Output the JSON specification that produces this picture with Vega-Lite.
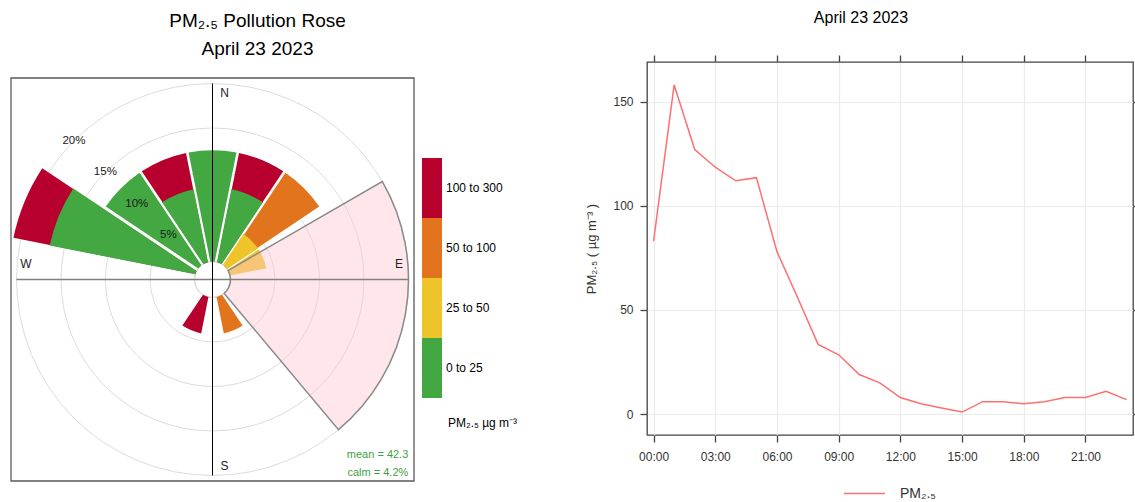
{
  "$schema": "https://vega.github.io/schema/vega-lite/v6.json",
  "padding": {"left": 10, "top": 9, "right": 2, "bottom": 0},
  "background": "white",
  "spacing": 67,
  "resolve": {"scale": {"color": "independent"}, "legend": {"color": "independent"}},
  "config": {
    "font": "Liberation Sans",
    "title": {"font": "Liberation Sans"},
    "axis": {"labelFont": "Liberation Sans", "titleFont": "Liberation Sans"},
    "legend": {"labelFont": "Liberation Sans", "titleFont": "Liberation Sans"}
  },
  "hconcat": [
    {
      "width": 403,
      "height": 419,
      "view": {"stroke": null},
      "title": {
        "text": ["PM₂.₅ Pollution Rose", "April 23 2023"],
        "fontSize": 19,
        "fontWeight": "normal",
        "color": "#000",
        "frame": "group",
        "anchor": "middle",
        "dx": 45,
        "lineHeight": 28,
        "offset": 3
      },
      "layer": [
        {
          "data": {"values": [{"x": 0}]},
          "mark": {"type": "rect", "filled": false, "stroke": "#5a5a5a", "strokeWidth": 1.3},
          "encoding": {
            "x": {"datum": -20.5612, "type": "quantitative", "scale": {"domain": [-20.5612, 20.5612], "nice": false, "zero": false}, "axis": null},
            "x2": {"datum": 20.5612},
            "y": {"datum": -20.5612, "type": "quantitative", "scale": {"domain": [-20.5612, 22.193], "nice": false, "zero": false}, "axis": null},
            "y2": {"datum": 20.5612}
          }
        },
        {
          "data": {"values": [{"r": 5}, {"r": 10}, {"r": 15}, {"r": 20}]},
          "mark": {"type": "arc", "filled": false, "stroke": "#dcdcdc", "strokeWidth": 1},
          "encoding": {
            "x": {"datum": 0, "type": "quantitative", "scale": {"domain": [-20.5612, 20.5612], "nice": false, "zero": false}, "axis": null},
            "y": {"datum": 0, "type": "quantitative", "scale": {"domain": [-20.5612, 22.193], "nice": false, "zero": false}, "axis": null},
            "theta": {"datum": 0, "type": "quantitative", "stack": null, "scale": {"type": "linear", "domain": [0, 360], "range": [0, 6.283185307179586], "zero": false, "nice": false}},
            "theta2": {"datum": 360},
            "radius": {"field": "r", "type": "quantitative", "stack": null, "scale": {"type": "linear", "domain": [0, 20], "range": [18, 196], "zero": false, "nice": false}}
          }
        },
        {
          "data": {"values": [
            {"sector": "N", "from": -11.25, "to": 11.25, "pm": "0 to 25", "cum": 12.5},
            {"sector": "NNE", "from": 11.25, "to": 33.75, "pm": "100 to 300", "cum": 12.5},
            {"sector": "NNE", "from": 11.25, "to": 33.75, "pm": "0 to 25", "cum": 8.333},
            {"sector": "NE", "from": 33.75, "to": 56.25, "pm": "50 to 100", "cum": 12.5},
            {"sector": "NE", "from": 33.75, "to": 56.25, "pm": "25 to 50", "cum": 4.167},
            {"sector": "ENE", "from": 56.25, "to": 78.75, "pm": "25 to 50", "cum": 4.167},
            {"sector": "SSE", "from": 146.25, "to": 168.75, "pm": "50 to 100", "cum": 4.167},
            {"sector": "SSW", "from": 191.25, "to": 213.75, "pm": "100 to 300", "cum": 4.167},
            {"sector": "WNW", "from": 281.25, "to": 303.75, "pm": "100 to 300", "cum": 20.833},
            {"sector": "WNW", "from": 281.25, "to": 303.75, "pm": "0 to 25", "cum": 16.667},
            {"sector": "NW", "from": 303.75, "to": 326.25, "pm": "0 to 25", "cum": 12.5},
            {"sector": "NNW", "from": 326.25, "to": 348.75, "pm": "100 to 300", "cum": 12.5},
            {"sector": "NNW", "from": 326.25, "to": 348.75, "pm": "0 to 25", "cum": 8.333}
          ]},
          "mark": {"type": "arc", "padAngle": 0.02, "strokeWidth": 0, "opacity": 1},
          "encoding": {
            "x": {"datum": 0, "type": "quantitative", "scale": {"domain": [-20.5612, 20.5612], "nice": false, "zero": false}, "axis": null},
            "y": {"datum": 0, "type": "quantitative", "scale": {"domain": [-20.5612, 22.193], "nice": false, "zero": false}, "axis": null},
            "theta": {"field": "from", "type": "quantitative", "stack": null, "scale": {"type": "linear", "domain": [0, 360], "range": [0, 6.283185307179586], "zero": false, "nice": false}},
            "theta2": {"field": "to"},
            "radius": {"field": "cum", "type": "quantitative", "stack": null, "scale": {"type": "linear", "domain": [0, 20], "range": [18, 196], "zero": false, "nice": false}},
            "radius2": {"datum": 0},
            "color": {
              "field": "pm",
              "type": "nominal",
              "scale": {"domain": ["100 to 300", "50 to 100", "25 to 50", "0 to 25"], "range": ["#B8002E", "#E3741E", "#EEC42A", "#43A842"]},
              "legend": {
                "orient": "none",
                "legendX": 411,
                "legendY": 116,
                "title": null,
                "symbolType": "M-1,-2.99H1V2.99H-1Z",
                "symbolSize": 400,
                "symbolStrokeWidth": 0,
                "symbolOpacity": 1,
                "rowPadding": 0,
                "padding": 0,
                "labelOffset": 4,
                "labelFontSize": 12,
                "labelColor": "#000"
              }
            }
          }
        },
        {
          "data": {"values": [{"from": 60, "to": 140, "r": 20}]},
          "mark": {"type": "arc", "fill": "#ffc8d2", "fillOpacity": 0.45, "stroke": "#8a8a8a", "strokeWidth": 1.5, "strokeOpacity": 1},
          "encoding": {
            "x": {"datum": 0, "type": "quantitative", "scale": {"domain": [-20.5612, 20.5612], "nice": false, "zero": false}, "axis": null},
            "y": {"datum": 0, "type": "quantitative", "scale": {"domain": [-20.5612, 22.193], "nice": false, "zero": false}, "axis": null},
            "theta": {"field": "from", "type": "quantitative", "stack": null, "scale": {"type": "linear", "domain": [0, 360], "range": [0, 6.283185307179586], "zero": false, "nice": false}},
            "theta2": {"field": "to"},
            "radius": {"field": "r", "type": "quantitative", "stack": null, "scale": {"type": "linear", "domain": [0, 20], "range": [18, 196], "zero": false, "nice": false}},
            "radius2": {"datum": 0}
          }
        },
        {
          "data": {"values": [{"x": 0}]},
          "mark": {"type": "rule", "color": "#808080", "strokeWidth": 1.3},
          "encoding": {
            "x": {"datum": -20, "type": "quantitative", "scale": {"domain": [-20.5612, 20.5612], "nice": false, "zero": false}, "axis": null},
            "x2": {"datum": 20},
            "y": {"datum": 0, "type": "quantitative", "scale": {"domain": [-20.5612, 22.193], "nice": false, "zero": false}, "axis": null}
          }
        },
        {
          "data": {"values": [{"x": 0}]},
          "mark": {"type": "rule", "color": "#000", "strokeWidth": 1},
          "encoding": {
            "x": {"datum": 0, "type": "quantitative", "scale": {"domain": [-20.5612, 20.5612], "nice": false, "zero": false}, "axis": null},
            "y": {"datum": -20, "type": "quantitative", "scale": {"domain": [-20.5612, 22.193], "nice": false, "zero": false}, "axis": null},
            "y2": {"datum": 20}
          }
        },
        {
          "data": {"values": [{"lab": "5%", "r": 5}, {"lab": "10%", "r": 10}, {"lab": "15%", "r": 15}, {"lab": "20%", "r": 20}]},
          "mark": {"type": "text", "fontSize": 11.5, "color": "#1a1a1a", "align": "center", "baseline": "middle"},
          "encoding": {
            "x": {"datum": 0, "type": "quantitative", "scale": {"domain": [-20.5612, 20.5612], "nice": false, "zero": false}, "axis": null},
            "y": {"datum": 0, "type": "quantitative", "scale": {"domain": [-20.5612, 22.193], "nice": false, "zero": false}, "axis": null},
            "theta": {"datum": 315, "type": "quantitative", "stack": null, "scale": {"type": "linear", "domain": [0, 360], "range": [0, 6.283185307179586], "zero": false, "nice": false}},
            "radius": {"field": "r", "type": "quantitative", "stack": null, "scale": {"type": "linear", "domain": [0, 20], "range": [18, 196], "zero": false, "nice": false}},
            "text": {"field": "lab"}
          }
        },
        {
          "data": {"values": [{"lab": "N", "dir": 0}, {"lab": "S", "dir": 180}]},
          "mark": {"type": "text", "fontSize": 12, "color": "#222", "align": "center", "baseline": "middle", "dx": 12},
          "encoding": {
            "x": {"datum": 0, "type": "quantitative", "scale": {"domain": [-20.5612, 20.5612], "nice": false, "zero": false}, "axis": null},
            "y": {"datum": 0, "type": "quantitative", "scale": {"domain": [-20.5612, 22.193], "nice": false, "zero": false}, "axis": null},
            "theta": {"field": "dir", "type": "quantitative", "stack": null, "scale": {"type": "linear", "domain": [0, 360], "range": [0, 6.283185307179586], "zero": false, "nice": false}},
            "radius": {"datum": 18.93, "type": "quantitative", "stack": null, "scale": {"type": "linear", "domain": [0, 20], "range": [18, 196], "zero": false, "nice": false}},
            "text": {"field": "lab"}
          }
        },
        {
          "data": {"values": [{"lab": "E", "dir": 90}, {"lab": "W", "dir": 270}]},
          "mark": {"type": "text", "fontSize": 12, "color": "#222", "align": "center", "baseline": "middle", "dy": -15},
          "encoding": {
            "x": {"datum": 0, "type": "quantitative", "scale": {"domain": [-20.5612, 20.5612], "nice": false, "zero": false}, "axis": null},
            "y": {"datum": 0, "type": "quantitative", "scale": {"domain": [-20.5612, 22.193], "nice": false, "zero": false}, "axis": null},
            "theta": {"field": "dir", "type": "quantitative", "stack": null, "scale": {"type": "linear", "domain": [0, 360], "range": [0, 6.283185307179586], "zero": false, "nice": false}},
            "radius": {"datum": 18.93, "type": "quantitative", "stack": null, "scale": {"type": "linear", "domain": [0, 20], "range": [18, 196], "zero": false, "nice": false}},
            "text": {"field": "lab"}
          }
        },
        {
          "data": {"values": [{"t": "mean = 42.3"}]},
          "mark": {"type": "text", "fontSize": 11, "color": "#3f9f3f", "align": "right", "baseline": "middle"},
          "encoding": {
            "x": {"datum": 19.98, "type": "quantitative", "scale": {"domain": [-20.5612, 20.5612], "nice": false, "zero": false}, "axis": null},
            "y": {"datum": -17.9, "type": "quantitative", "scale": {"domain": [-20.5612, 22.193], "nice": false, "zero": false}, "axis": null},
            "text": {"field": "t"}
          }
        },
        {
          "data": {"values": [{"t": "calm = 4.2%"}]},
          "mark": {"type": "text", "fontSize": 11, "color": "#3f9f3f", "align": "right", "baseline": "middle"},
          "encoding": {
            "x": {"datum": 19.98, "type": "quantitative", "scale": {"domain": [-20.5612, 20.5612], "nice": false, "zero": false}, "axis": null},
            "y": {"datum": -19.78, "type": "quantitative", "scale": {"domain": [-20.5612, 22.193], "nice": false, "zero": false}, "axis": null},
            "text": {"field": "t"}
          }
        },
        {
          "data": {"values": [{"t": "PM₂.₅ µg m⁻³"}]},
          "mark": {"type": "text", "fontSize": 12, "color": "#000", "align": "left", "baseline": "middle"},
          "encoding": {
            "x": {"datum": 24.03, "type": "quantitative", "scale": {"domain": [-20.5612, 20.5612], "nice": false, "zero": false}, "axis": null},
            "y": {"datum": -14.64, "type": "quantitative", "scale": {"domain": [-20.5612, 22.193], "nice": false, "zero": false}, "axis": null},
            "text": {"field": "t"}
          }
        }
      ]
    },
    {
      "width": 486,
      "height": 373,
      "view": {"stroke": "#444", "strokeWidth": 1.3},
      "title": {
        "text": "April 23 2023",
        "fontSize": 16,
        "fontWeight": "normal",
        "color": "#000",
        "frame": "group",
        "anchor": "middle",
        "dx": -29,
        "offset": 28
      },
      "data": {"values": [
        {"hour": 0, "pm25": 83}, {"hour": 1, "pm25": 158}, {"hour": 2, "pm25": 127}, {"hour": 3, "pm25": 118.5},
        {"hour": 4, "pm25": 112}, {"hour": 5, "pm25": 113.5}, {"hour": 6, "pm25": 78}, {"hour": 7, "pm25": 56},
        {"hour": 8, "pm25": 33.5}, {"hour": 9, "pm25": 28.5}, {"hour": 10, "pm25": 19}, {"hour": 11, "pm25": 15},
        {"hour": 12, "pm25": 8}, {"hour": 13, "pm25": 5}, {"hour": 14, "pm25": 3}, {"hour": 15, "pm25": 1},
        {"hour": 16, "pm25": 6}, {"hour": 17, "pm25": 6}, {"hour": 18, "pm25": 5}, {"hour": 19, "pm25": 6},
        {"hour": 20, "pm25": 8}, {"hour": 21, "pm25": 8}, {"hour": 22, "pm25": 11}, {"hour": 23, "pm25": 7}
      ]},
      "layer": [
        {
          "mark": {"type": "line", "strokeWidth": 1.5},
          "encoding": {
            "x": {
              "field": "hour", "type": "quantitative",
              "scale": {"domain": [-0.32, 23.31], "nice": false, "zero": false},
              "axis": {"orient": "bottom", "values": [0, 3, 6, 9, 12, 15, 18, 21], "labelExpr": "(datum.value < 10 ? '0' : '') + datum.value + ':00'", "title": null, "domain": false, "ticks": true, "tickSize": 7, "tickColor": "#444", "tickWidth": 1.3, "labelPadding": 9, "labelFontSize": 12, "labelColor": "#333", "grid": true, "gridColor": "#ebebeb", "gridWidth": 1.2}
            },
            "y": {
              "field": "pm25", "type": "quantitative",
              "scale": {"domain": [-10, 169], "nice": false, "zero": false},
              "axis": {"orient": "left", "values": [0, 50, 100, 150], "title": "PM₂.₅ ( µg m⁻³ )", "titleFontSize": 13, "titleFontWeight": "normal", "titleColor": "#333", "titlePadding": 14, "domain": false, "tickSize": 7, "tickColor": "#444", "tickWidth": 1.3, "labelPadding": 7, "labelFontSize": 12, "labelColor": "#333", "grid": true, "gridColor": "#ebebeb", "gridWidth": 1.2}
            },
            "color": {
              "datum": "PM₂.₅",
              "type": "nominal",
              "scale": {"domain": ["PM₂.₅"], "range": ["#ff6f6f"]},
              "legend": {"orient": "none", "legendX": 196, "legendY": 410, "padding": 0, "title": null, "symbolType": "stroke", "symbolSize": 1681, "symbolStrokeWidth": 1.5, "labelOffset": 14, "labelFontSize": 14, "labelColor": "#333"}
            }
          }
        },
        {
          "mark": {"type": "line", "opacity": 0},
          "encoding": {
            "x": {
              "field": "hour", "type": "quantitative",
              "scale": {"domain": [-0.32, 23.31], "nice": false, "zero": false},
              "axis": {"orient": "top", "values": [0, 3, 6, 9, 12, 15, 18, 21], "labels": false, "title": null, "domain": false, "ticks": true, "tickSize": 7, "tickColor": "#444", "tickWidth": 1.3, "grid": false}
            },
            "y": {
              "field": "pm25", "type": "quantitative",
              "scale": {"domain": [-10, 169], "nice": false, "zero": false},
              "axis": {"orient": "right", "values": [0, 50, 100, 150], "labels": false, "title": null, "domain": false, "ticks": true, "tickSize": 7, "tickColor": "#444", "tickWidth": 1.3, "grid": false}
            }
          }
        }
      ],
      "resolve": {"axis": {"x": "independent", "y": "independent"}}
    }
  ]
}
